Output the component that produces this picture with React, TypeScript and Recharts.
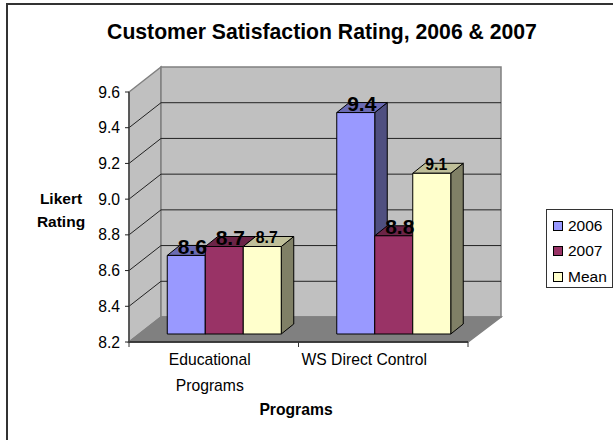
import React from "react";
import { BarChart, Bar, XAxis, YAxis, CartesianGrid, LabelList, Legend, ReferenceArea, Text } from "recharts";

const categories = ["Educational Programs", "WS Direct Control"];
const values2006 = [8.64, 9.44];
const values2007 = [8.69, 8.75];
const valuesMean = [8.69, 9.1];
const yTicks = [8.2, 8.4, 8.6, 8.8, 9.0, 9.2, 9.4, 9.6];
const tickNudge = [-4, -19];

const data = categories.map((name, i) => ({
  name,
  "2006": values2006[i],
  "2007": values2007[i],
  Mean: valuesMean[i],
}));

const FONT = "'Liberation Sans', Arial, sans-serif";
const WALL_DX = 32;
const WALL_DY = -25;
const FRONT_DX = 10;
const FRONT_DY = -8;
const DEPTH_DX = 12.5;
const DEPTH_DY = -10;

const makeBar = (front: string, top: string, side: string) => (p: any) => {
  const x = p.x + FRONT_DX;
  const y = p.y + FRONT_DY;
  const w = p.width;
  const h = p.height;
  const line = { stroke: "#000", strokeWidth: 1, strokeLinejoin: "round" as const };
  return (
    <g>
      <polygon
        points={`${x + w},${y} ${x + w + DEPTH_DX},${y + DEPTH_DY} ${x + w + DEPTH_DX},${y + h + DEPTH_DY} ${x + w},${y + h}`}
        fill={side}
        {...line}
      />
      <polygon
        points={`${x},${y} ${x + DEPTH_DX},${y + DEPTH_DY} ${x + w + DEPTH_DX},${y + DEPTH_DY} ${x + w},${y}`}
        fill={top}
        {...line}
      />
      <rect x={x} y={y} width={w} height={h} fill={front} {...line} />
    </g>
  );
};

const Walls = (p: any) => {
  const { x, y, width: w, height: h } = p;
  const b = y + h;
  const r = x + w;
  const edge = { stroke: "#808080", strokeWidth: 1.5 };
  return (
    <g>
      <polygon points={`${x},${b} ${x},${y} ${x + WALL_DX},${y + WALL_DY} ${x + WALL_DX},${b + WALL_DY}`} fill="#C0C0C0" {...edge} />
      <rect x={x + WALL_DX} y={y + WALL_DY} width={w + 1} height={h} fill="#C0C0C0" {...edge} />
      <polygon points={`${x},${b} ${r},${b} ${r + WALL_DX + 1},${b + WALL_DY} ${x + WALL_DX},${b + WALL_DY}`} fill="#808080" {...edge} />
    </g>
  );
};

const GridLine = (p: any) => {
  const { x1, x2, y1, index } = p;
  if (index === yTicks.length - 1 || index === 0) return <g key={p.key} />;
  return (
    <g key={p.key}>
      <polyline
        points={`${x1},${y1} ${x1 + WALL_DX},${y1 + WALL_DY} ${x2 + WALL_DX + 1},${y1 + WALL_DY}`}
        fill="none"
        stroke="#222"
        strokeWidth={1}
      />
    </g>
  );
};

const PLOT_BOTTOM_GAP = 8;

const CategoryTick = (p: any) => {
  const band = p.width / categories.length;
  const yBase = p.y - PLOT_BOTTOM_GAP;
  const left = p.x - band / 2;
  const right = p.x + band / 2;
  return (
    <g>
      <line x1={left} x2={left} y1={yBase} y2={yBase + 5} stroke="#333" />
      {p.index === categories.length - 1 && <line x1={right} x2={right} y1={yBase} y2={yBase + 5} stroke="#333" />}
      <Text
        x={p.x + tickNudge[p.index]}
        y={p.y + 4}
        width={140}
        textAnchor="middle"
        verticalAnchor="start"
        lineHeight={26}
        style={{ fontFamily: FONT, fontSize: 15.7, fill: "#000" }}
      >
        {p.payload.value}
      </Text>
    </g>
  );
};

const makeLabel = (size: number, nudge: number) => (p: any) => (
  <text
    x={p.x + p.width / 2 + FRONT_DX + nudge}
    y={p.y + FRONT_DY - 9}
    textAnchor="middle"
    dominantBaseline="central"
    style={{ fontFamily: FONT, fontSize: size, fontWeight: 700, fill: "#000" }}
  >
    {Number(p.value).toFixed(1)}
  </text>
);

const LegendBox = (p: any) => (
  <div
    style={{
      boxSizing: "border-box",
      width: 67,
      height: 79,
      border: "1px solid #333",
      background: "#fff",
      padding: "3px 0 0 6px",
      fontFamily: FONT,
      fontSize: 15.5,
      color: "#000",
    }}
  >
    {p.payload.map((e: any) => (
      <div key={e.value} style={{ display: "flex", alignItems: "center", height: 25.5 }}>
        <span style={{ boxSizing: "border-box", width: 10, height: 10, background: e.color, border: "1px solid #000", marginRight: 5 }} />
        {e.value}
      </div>
    ))}
  </div>
);

const textBox = (css: React.CSSProperties): React.CSSProperties => ({
  position: "absolute",
  fontFamily: FONT,
  fontWeight: 700,
  color: "#000",
  textAlign: "center",
  whiteSpace: "nowrap",
  ...css,
});

export default function App() {
  return (
    <div style={{ position: "fixed", left: 0, top: 0, width: 613, height: 440, background: "#fff", overflow: "hidden" }}>
      <div style={{ position: "absolute", left: 6, top: 3, width: 640, height: 600, border: "2px solid #333", boxSizing: "border-box" }} />
      <div style={textBox({ left: 22, width: 600, top: 20, fontSize: 21.2, lineHeight: "24px" })}>
        Customer Satisfaction Rating, 2006 &amp; 2007
      </div>
      <div style={textBox({ left: 21, width: 80, top: 187, fontSize: 15.5, lineHeight: "23px" })}>
        Likert
        <br />
        Rating
      </div>
      <div style={textBox({ left: 196, width: 200, top: 400, fontSize: 15.7, lineHeight: "20px" })}>Programs</div>
      <div style={{ position: "absolute", left: 0, top: 0 }}>
        <BarChart
          width={613}
          height={440}
          data={data}
          margin={{ top: 92, right: 78, bottom: 0, left: 0 }}
          barCategoryGap="16.67%"
          barGap={0}
        >
          <ReferenceArea y1={8.2} y2={9.6} shape={<Walls />} ifOverflow="visible" {...({ zIndex: -200 } as any)} />
          <CartesianGrid horizontal={GridLine} vertical={false} />
          <XAxis
            dataKey="name"
            height={98}
            interval={0}
            axisLine={{ stroke: "#222", strokeWidth: 1.5 }}
            tickLine={false}
            tick={<CategoryTick />}
          />
          <YAxis
            width={129}
            domain={[8.2, 9.6]}
            ticks={yTicks}
            interval={0}
            allowDataOverflow
            tickFormatter={(v: number) => v.toFixed(1)}
            axisLine={{ stroke: "#444", strokeWidth: 1.5 }}
            tickLine={{ stroke: "#222" }}
            tickSize={4}
            tickMargin={5}
            tick={{ fontFamily: FONT, fontSize: 15.7, fill: "#000" }}
          />
          <Legend
            layout="vertical"
            align="right"
            verticalAlign="top"
            content={<LegendBox />}
            wrapperStyle={{ left: 546, top: 209, width: 67 }}
          />
          <Bar dataKey="2006" fill="#9999FF" isAnimationActive={false} shape={makeBar("#9999FF", "#6B6BB3", "#4F4F80")}>
            <LabelList dataKey="2006" content={makeLabel(21, 6)} />
          </Bar>
          <Bar dataKey="2007" fill="#993366" isAnimationActive={false} shape={makeBar("#993366", "#6B2447", "#4D1A33")}>
            <LabelList dataKey="2007" content={makeLabel(21, 6)} />
          </Bar>
          <Bar dataKey="Mean" fill="#FFFFCC" isAnimationActive={false} shape={makeBar("#FFFFCC", "#BFBF99", "#808066")}>
            <LabelList dataKey="Mean" content={makeLabel(15.8, 4.5)} />
          </Bar>
        </BarChart>
      </div>
    </div>
  );
}
